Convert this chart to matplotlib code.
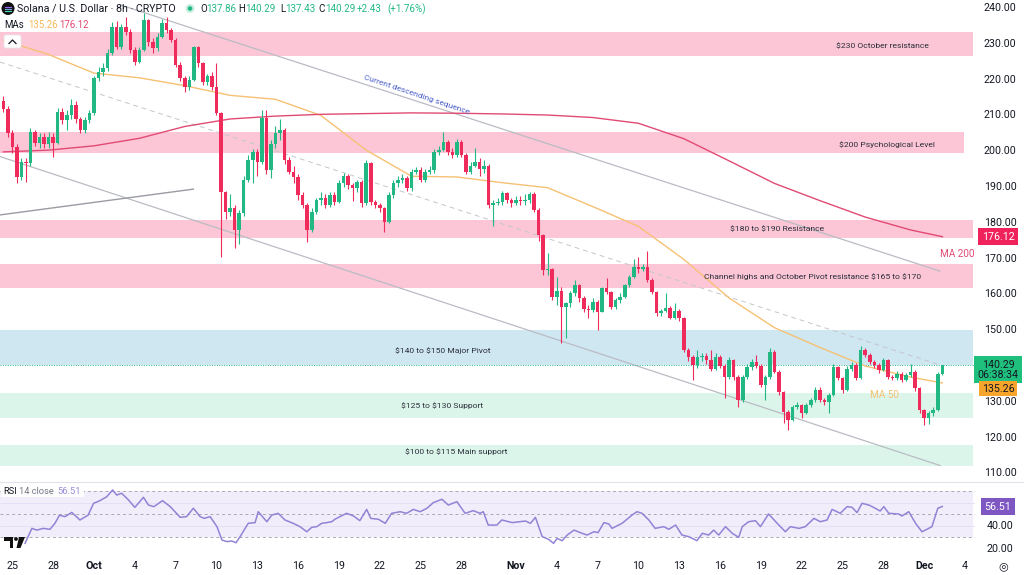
import matplotlib
matplotlib.use('Agg')
import matplotlib.pyplot as plt
from matplotlib.patches import Rectangle, Circle, Polygon, FancyBboxPatch

plt.rcParams['font.family'] = ['Roboto', 'DejaVu Sans']

# ---------------- data (8h candles, index 0 = Sep 24 08:00) ----------------
opens = [214.0, 211.7, 205.0, 201.3, 192.9, 197.1, 196.8, 205.5, 202.2, 204.0,
         202.0, 204.0, 202.2, 211.0, 208.7, 210.0, 213.0, 209.0, 206.0, 208.7,
         210.6, 220.4, 222.2, 223.2, 227.3, 234.8, 229.2, 234.8, 233.4, 228.3,
         225.0, 228.3, 236.6, 230.6, 228.7, 232.0, 235.7, 233.9, 231.1, 224.1,
         220.4, 218.0, 220.0, 229.0, 224.5, 219.4, 221.0, 218.0, 210.6, 188.7,
         183.0, 184.0, 178.0, 182.6, 192.0, 197.5, 199.8, 197.0, 209.2, 194.7,
         202.0, 205.0, 206.0, 197.5, 194.3, 192.9, 187.8, 185.0, 178.0, 183.0,
         186.4, 187.0, 185.0, 187.8, 185.9, 191.0, 193.0, 190.5, 189.6, 191.5,
         185.4, 196.6, 185.9, 185.0, 184.0, 180.3, 187.8, 191.0, 192.0, 192.4,
         189.6, 194.3, 194.8, 192.0, 194.3, 194.8, 199.9, 200.3, 202.6, 199.9,
         199.0, 202.6, 199.0, 194.3, 196.0, 197.0, 195.0, 196.0, 185.0, 185.5,
         185.8, 188.2, 186.4, 185.4, 186.4, 186.0, 186.5, 188.0, 183.6, 176.6,
         166.8, 167.2, 159.4, 161.0, 156.6, 157.5, 160.3, 162.6, 158.9, 156.0,
         155.6, 158.0, 155.2, 161.7, 160.8, 156.6, 158.4, 159.4, 162.6, 165.0,
         167.7, 167.0, 167.7, 164.0, 160.7, 154.7, 155.5, 156.3, 153.5, 155.5,
         153.3, 144.5, 142.6, 140.3, 142.6, 142.9, 141.6, 139.3, 142.6, 140.0,
         137.0, 141.7, 137.0, 130.5, 137.0, 139.8, 141.2, 140.0, 134.7, 137.0,
         144.0, 138.4, 132.8, 127.2, 124.9, 128.6, 129.0, 126.8, 129.1, 130.5,
         133.3, 130.5, 130.0, 131.9, 139.8, 136.6, 133.3, 139.3, 140.3, 136.6,
         144.5, 143.0, 141.2, 140.3, 138.9, 141.7, 137.0, 136.7, 137.9, 136.1,
         137.5, 138.4, 133.8, 127.7, 125.4, 126.8, 127.7, 137.86]
closes = [211.7, 205.0, 201.3, 192.9, 197.1, 196.8, 205.5, 202.2, 204.0, 202.0,
          204.0, 202.2, 211.0, 208.7, 210.0, 213.0, 209.0, 206.0, 208.7, 210.6,
          220.4, 222.2, 223.2, 227.3, 234.8, 229.2, 234.8, 233.4, 228.3, 225.0,
          228.3, 236.6, 230.6, 228.7, 232.0, 235.7, 233.9, 231.1, 224.1, 220.4,
          218.0, 220.0, 229.0, 224.5, 219.4, 221.0, 218.0, 210.6, 188.7, 183.0,
          184.0, 178.0, 182.6, 192.0, 197.5, 199.8, 197.0, 209.2, 194.7, 202.0,
          205.0, 206.0, 197.5, 194.3, 192.9, 187.8, 185.0, 178.0, 183.0, 186.4,
          187.0, 185.0, 187.8, 185.9, 191.0, 193.0, 190.5, 189.6, 191.5, 185.4,
          196.6, 185.9, 185.0, 184.0, 180.3, 187.8, 191.0, 192.0, 192.4, 189.6,
          194.3, 194.8, 192.0, 194.3, 194.8, 199.9, 200.3, 202.6, 199.9, 199.0,
          202.6, 199.0, 194.3, 196.0, 197.0, 195.0, 196.0, 185.0, 185.5, 185.8,
          188.2, 186.4, 185.4, 186.4, 186.0, 186.5, 188.0, 183.6, 176.6, 166.8,
          167.2, 159.4, 161.0, 156.6, 157.5, 160.3, 162.6, 158.9, 156.0, 155.6,
          158.0, 155.2, 161.7, 160.8, 156.6, 158.4, 159.4, 162.6, 165.0, 167.7,
          167.0, 167.7, 164.0, 160.7, 154.7, 155.5, 156.3, 153.5, 155.5, 153.3,
          144.5, 142.6, 140.3, 142.6, 142.9, 141.6, 139.3, 142.6, 140.0, 137.0,
          141.7, 137.0, 130.5, 137.0, 139.8, 141.2, 140.0, 134.7, 137.0, 144.0,
          138.4, 132.8, 127.2, 124.9, 128.6, 129.0, 126.8, 129.1, 130.5, 133.3,
          130.5, 130.0, 131.9, 139.8, 136.6, 133.3, 139.3, 140.3, 136.6, 144.5,
          143.0, 141.2, 140.3, 138.9, 141.7, 137.0, 136.7, 137.9, 136.1, 137.5,
          138.4, 133.8, 127.7, 125.4, 126.8, 127.7, 137.86, 140.29]
highs = [215.5, 212.5, 206.0, 202.0, 198.0, 198.0, 206.5, 206.0, 205.0, 205.0,
         205.5, 205.0, 212.0, 212.0, 211.5, 214.5, 214.0, 209.5, 209.5, 211.5,
         221.0, 223.5, 224.5, 228.5, 236.0, 236.5, 235.5, 237.5, 234.0, 229.0,
         229.0, 238.5, 237.0, 231.5, 233.0, 237.0, 237.5, 234.5, 231.5, 225.0,
         221.0, 221.0, 229.5, 229.5, 225.0, 221.5, 222.0, 224.5, 211.0, 189.0,
         188.0, 185.0, 183.5, 193.0, 199.0, 200.5, 200.5, 211.5, 211.5, 203.0,
         207.0, 209.0, 206.5, 198.5, 196.0, 193.5, 188.5, 185.5, 184.0, 187.0,
         188.5, 188.0, 188.5, 188.5, 192.0, 194.0, 193.5, 191.0, 192.0, 192.0,
         197.5, 197.0, 186.5, 185.5, 184.5, 188.5, 192.0, 193.0, 193.5, 193.0,
         195.0, 195.5, 195.5, 195.0, 196.0, 200.5, 201.5, 205.5, 203.0, 201.0,
         203.5, 203.0, 199.5, 197.0, 201.0, 198.0, 197.5, 196.5, 186.5, 187.0,
         189.0, 188.5, 187.0, 187.5, 187.5, 188.0, 188.5, 188.5, 184.0, 177.0,
         171.5, 167.5, 165.0, 162.0, 158.0, 161.0, 164.0, 163.0, 159.5, 157.0,
         159.0, 158.5, 162.0, 164.5, 161.0, 159.0, 160.5, 163.0, 165.5, 170.0,
         170.5, 168.5, 172.0, 164.5, 161.0, 156.0, 160.5, 156.8, 157.5, 156.0,
         153.8, 145.0, 143.0, 144.5, 143.5, 143.5, 144.5, 143.5, 143.0, 140.5,
         142.5, 142.0, 137.5, 137.5, 140.5, 142.0, 143.0, 140.5, 137.5, 145.0,
         144.5, 138.8, 133.0, 127.8, 129.0, 130.0, 129.5, 129.8, 131.0, 134.0,
         134.0, 131.0, 132.5, 140.5, 140.0, 137.0, 140.0, 141.0, 140.8, 145.5,
         145.0, 143.5, 141.8, 140.8, 142.2, 142.0, 137.5, 138.5, 138.3, 138.0,
         140.5, 138.8, 134.0, 128.0, 127.5, 128.5, 138.2, 140.29]
lows = [211.0, 204.0, 199.5, 191.0, 192.0, 191.5, 196.0, 201.5, 201.0, 201.0,
        201.0, 198.5, 202.0, 207.5, 206.0, 209.0, 208.0, 205.0, 205.0, 208.0,
        210.0, 219.5, 221.0, 222.5, 227.0, 228.5, 228.5, 232.5, 227.5, 224.0,
        224.5, 228.0, 229.5, 227.5, 228.0, 231.5, 233.0, 230.5, 223.5, 219.5,
        216.5, 217.0, 219.5, 223.5, 218.5, 218.5, 217.0, 210.0, 170.5, 181.0,
        182.0, 173.0, 174.0, 182.0, 191.5, 191.0, 193.0, 196.5, 193.5, 192.5,
        201.0, 203.0, 196.5, 193.5, 191.0, 186.5, 184.0, 174.7, 177.5, 182.5,
        185.0, 184.0, 184.5, 185.0, 185.5, 190.0, 189.5, 186.0, 188.5, 184.5,
        185.0, 185.0, 184.0, 183.0, 177.5, 180.0, 187.0, 190.0, 191.0, 189.0,
        189.0, 193.5, 191.5, 191.5, 193.5, 194.0, 199.0, 200.0, 199.0, 198.0,
        198.5, 198.5, 193.5, 193.5, 195.5, 193.0, 194.0, 184.0, 179.0, 185.0,
        185.0, 185.5, 184.5, 185.0, 185.0, 185.0, 185.5, 183.0, 175.0, 165.5,
        165.5, 158.5, 157.0, 146.5, 147.7, 156.5, 159.5, 158.0, 155.0, 153.5,
        155.0, 150.0, 155.0, 160.0, 156.0, 156.0, 157.5, 159.0, 162.0, 164.5,
        166.0, 166.5, 163.5, 160.0, 154.0, 154.0, 155.0, 153.0, 153.0, 152.5,
        144.0, 141.5, 136.0, 139.5, 141.5, 140.5, 138.5, 139.0, 139.5, 131.0,
        136.5, 136.0, 128.6, 130.0, 136.5, 139.0, 139.5, 134.0, 130.5, 136.5,
        138.0, 132.0, 124.0, 122.0, 124.5, 128.0, 125.5, 126.5, 128.5, 130.0,
        130.0, 129.0, 127.0, 131.5, 136.0, 132.5, 133.0, 138.5, 136.0, 136.3,
        142.5, 140.5, 139.5, 138.0, 138.5, 136.5, 136.0, 136.2, 135.6, 135.8,
        137.0, 133.0, 127.0, 123.5, 123.8, 126.0, 127.3, 137.43]

ma_idx = [0, 10, 20, 30, 40, 50, 60, 70, 80, 90, 100, 110, 120, 130, 140,
          150, 160, 170, 180, 190, 200, 207]
ma50 = [231.0, 227.0, 221.8, 220.5, 218.3, 215.6, 214.5, 210.0, 200.3, 193.0,
        192.8, 191.2, 189.8, 184.5, 179.0, 169.8, 159.0, 150.7, 145.2, 140.0,
        136.9, 135.26]
ma200 = [199.8, 200.3, 201.5, 203.6, 206.9, 209.0, 209.8, 210.3, 210.5, 210.7,
         210.6, 210.4, 210.1, 209.4, 207.8, 203.5, 197.3, 191.0, 186.2, 181.6,
         178.0, 176.12]

rsi_idx = [4.8, 6.3, 7.4, 8.8, 10.3, 11.4, 12.4, 13.6, 15.1, 16.9, 18.7, 19.9,
           21.3, 22.8, 24.1, 25.0, 26.1, 27.6, 29.0, 30.9, 32.0, 33.2, 35.1,
           36.8, 39.0, 40.4, 41.9, 43.4, 44.3, 45.6, 47.1, 48.2, 49.3, 50.4,
           51.3, 52.2, 54.0, 55.5, 56.2, 58.1, 59.2, 60.6, 62.1, 63.9, 65.4,
           66.9, 68.0, 69.1, 70.2, 71.3, 72.4, 73.1, 74.2, 75.7, 77.2, 78.6,
           80.1, 81.0, 82.7, 84.2, 85.6, 87.5, 88.9, 90.4, 91.9, 93.4, 94.8,
           96.7, 98.1, 100.0, 101.8, 103.6, 105.1, 105.8, 106.9, 108.8, 109.9,
           112.2, 115.1, 116.2, 117.3, 118.8, 120.2, 121.3, 122.1, 123.2, 124.3,
           125.8, 127.6, 128.7, 130.2, 131.1, 132.4, 133.5, 134.2, 136.4, 138.6,
           139.7, 140.8, 142.3, 143.7, 145.6, 146.7, 148.2, 149.6, 151.1, 152.9,
           154.1, 155.5, 156.6, 157.7, 159.2, 160.7, 162.1, 162.9, 164.3, 165.8,
           166.9, 168.7, 170.6, 172.4, 173.5, 175.4, 176.8, 178.7, 180.1, 181.6,
           182.7, 184.5, 186.0, 187.1, 188.2, 189.3, 190.8, 192.2, 193.3, 194.1,
           195.2, 197.4, 198.1, 199.6, 201.1, 202.5, 203.6, 204.7, 206.0, 207.0]
rsi_val = [24.5, 37.5, 36.0, 37.5, 36.7, 42.0, 49.0, 47.7, 51.4, 44.8, 49.0, 59.3,
           61.6, 65.0, 70.9, 66.5, 68.0, 62.2, 55.8, 64.5, 57.8, 56.4, 61.6,
           56.4, 47.1, 47.7, 55.0, 47.7, 46.2, 47.7, 39.0, 27.4, 26.0, 26.5,
           25.0, 30.3, 41.9, 42.5, 52.0, 43.3, 49.1, 50.6, 44.8, 41.9, 39.0,
           34.6, 38.4, 39.0, 41.9, 42.5, 43.3, 45.4, 47.7, 50.6, 48.3, 44.2,
           54.0, 46.2, 45.4, 41.9, 50.6, 52.0, 50.6, 54.0, 52.0, 55.0, 59.9,
           62.8, 57.8, 60.7, 50.6, 52.9, 50.6, 52.0, 40.4, 40.4, 44.8,
           42.5, 43.9, 41.9, 47.1, 30.3, 28.0, 24.5, 28.8, 26.8, 31.7,
           36.0, 33.2, 31.7, 34.6, 33.8, 42.5, 41.3, 37.5, 41.9, 49.1,
           52.0, 50.6, 44.8, 37.5, 39.0, 36.7, 40.4, 31.7, 30.3, 26.8,
           33.2, 31.7, 36.0, 31.7, 39.0, 33.2, 29.7, 39.0, 43.3, 44.2,
           39.0, 50.0, 41.9, 34.6, 39.0, 37.5, 39.0, 46.2, 43.3, 44.8,
           54.0, 50.6, 56.4, 55.8, 51.2, 59.3, 57.8, 55.0, 52.6, 56.4,
           50.6, 50.0, 48.3, 52.0, 41.9, 34.6, 36.7, 39.0, 55.0, 56.51]

date_tick_idx = [2, 11, 20, 29, 38, 47, 56, 65, 74, 83, 92, 101, 113, 122, 131,
                 140, 149, 158, 167, 176, 185, 194, 203, 212]
date_tick_lbl = ['25', '28', 'Oct', '4', '7', '10', '13', '16', '19', '22', '25',
                 '28', 'Nov', '4', '7', '10', '13', '16', '19', '22', '25', '28',
                 'Dec', '4']
price_ticks = [110, 120, 130, 150, 160, 170, 180, 190, 200, 210, 220, 230, 240]

# zones: low / high price, colour, right end (candle index)
zone_lo = [226.7, 199.5, 175.8, 161.8, 140.2, 125.5, 112.0]
zone_hi = [233.4, 205.3, 180.9, 168.5, 150.0, 132.5, 118.0]
zone_col = ['#fcc6d6', '#fcc6d6', '#fcc6d6', '#fcc6d6', '#cfe7f1', '#dcf5ea', '#dcf5ea']
zone_end = [213.8, 211.8, 213.8, 213.8, 213.8, 213.8, 213.8]
zone_txt = ['$230 October resistance', '$200 Psychological Level',
            '$180 to $190 Resistance',
            'Channel highs and October Pivot resistance $165 to $170',
            '$140 to $150 Major Pivot', '$125 to $130 Support',
            '$100 to $115 Main support']
zone_txt_x = [193.7, 194.8, 170.6, 178.3, 96.9, 96.7, 99.8]
zone_txt_y = [229.3, 201.7, 178.3, 164.9, 144.2, 128.8, 116.0]

# trend lines (candle index, price)
upper_x, upper_y = [25.7, 206.5], [240.9, 166.5]
lower_x, lower_y = [-0.72, 206.5], [198.5, 112.2]
dash_x, dash_y = [-0.72, 206.5], [224.9, 140.3]
short_x, short_y = [-0.72, 41.9], [182.2, 189.4]

last_close = 140.29
ma50_last = 135.26
ma200_last = 176.12
rsi_last = 56.51

# ---------------- figure ----------------
W, H = 1024, 575
fig = plt.figure(figsize=(W / 100, H / 100), dpi=100)
fig.patch.set_facecolor('white')

ax = fig.add_axes([0, 95 / H, 975 / W, 480 / H])
rx = fig.add_axes([0, 15 / H, 975 / W, 78 / H])
for a in (ax, rx):
    a.set_facecolor('white')
    for s in a.spines.values():
        s.set_visible(False)
    a.set_xticks([])
    a.set_yticks([])
    a.set_xlim(-0.723, 214.2)
ax.set_ylim(108.16, 242.23)
rx.set_ylim(10.0, 77.83)

UP = '#22b883'
DN = '#ee2b5b'
TXT = '#131722'

# zones
for lo, hi, col, xe in zip(zone_lo, zone_hi, zone_col, zone_end):
    ax.add_patch(Rectangle((-0.723, lo), xe + 0.723, hi - lo, facecolor=col,
                           edgecolor='none', zorder=1))
for t, tx, ty in zip(zone_txt, zone_txt_x, zone_txt_y):
    ax.text(tx, ty, t, fontsize=6.1, color='#2a2e39', ha='center', va='center',
            zorder=6, parse_math=False)

# trend lines
ax.plot(upper_x, upper_y, color='#b9bcc4', lw=0.9, zorder=2)
ax.plot(lower_x, lower_y, color='#b9bcc4', lw=0.9, zorder=2)
ax.plot(dash_x, dash_y, color='#c3c6cc', lw=0.7, ls=(0, (5, 4)), zorder=2)
ax.plot(short_x, short_y, color='#9a9ca3', lw=1.0, zorder=2)
ax.text(91.2, 215.7, 'Current descending sequence', fontsize=6.0, color='#4a5fc8',
        rotation=-18.5, rotation_mode='anchor', ha='center', va='center', zorder=6)

# moving averages
ax.plot(ma_idx, ma50, color='#f6c174', lw=1.0, zorder=2.5)
ax.plot(ma_idx, ma200, color='#e14a74', lw=1.0, zorder=2.5)

# current price dotted line
ax.axhline(last_close, color='#22b883', lw=0.7, ls=(0, (1, 1.5)), zorder=2)

# candles
idx = list(range(len(closes)))
cols = [UP if c >= o else DN for o, c in zip(opens, closes)]
bottoms = [min(o, c) for o, c in zip(opens, closes)]
heights = [max(abs(c - o), 0.3) for o, c in zip(opens, closes)]
ax.vlines(idx, lows, highs, colors=cols, lw=0.8, zorder=3)
ax.bar(idx, heights, bottom=bottoms, width=0.78, color=cols, linewidth=0, zorder=3.5)

ax.text(1.0, 171.2, 'MA 200', transform=ax.get_yaxis_transform(), fontsize=7.2,
        color='#e14a74', ha='right', va='center', zorder=6)
ax.text(194.2, 131.9, 'MA 50', fontsize=7.2, color='#f6c174', ha='center', va='center', zorder=6)

# price axis labels
yt = ax.get_yaxis_transform()
for p in price_ticks:
    ax.text(1.0256, p, f'{p:.2f}', transform=yt, fontsize=7.7, color=TXT,
            ha='center', va='center', clip_on=False)
ax.text(1.0236, ma200_last, f'{ma200_last:.2f}', transform=yt, fontsize=7.7, color='white',
        ha='center', va='center', clip_on=False,
        bbox=dict(boxstyle='square,pad=0.3', fc='#f0225c', ec='none'))
ax.annotate(f'{last_close:.2f}\n06:38:34', xy=(1.0236, last_close), xycoords=yt,
            xytext=(0, -3.3), textcoords='offset points', fontsize=7.7, color=TXT,
            ha='center', va='center', linespacing=1.0, annotation_clip=False,
            bbox=dict(boxstyle='square,pad=0.3', fc='#1fc07d', ec='none'))
ax.annotate(f'{ma50_last:.2f}', xy=(1.0236, ma50_last), xycoords=yt,
            xytext=(0, -4.2), textcoords='offset points', fontsize=7.7, color=TXT,
            ha='center', va='center', annotation_clip=False,
            bbox=dict(boxstyle='square,pad=0.22', fc='#f7a42c', ec='none'))

# ---------------- RSI pane ----------------
rx.add_patch(Rectangle((-0.723, 30), 214.5, 40, facecolor='#f1edfa', edgecolor='none', zorder=1))
for lv in (70, 50, 30):
    rx.axhline(lv, color='#a9a9b3', lw=0.7, ls=(0, (3, 3)), zorder=2)
for lv in (60, 40):
    rx.axhline(lv, color='#e4def3', lw=0.6, zorder=1.5)
rx.plot(rsi_idx, rsi_val, color='#9383d6', lw=1.1, zorder=3)
ryt = rx.get_yaxis_transform()
for r in (40, 20):
    rx.text(1.0256, r, f'{r:.2f}', transform=ryt, fontsize=7.7, color=TXT,
            ha='center', va='center', clip_on=False)
rx.text(1.0236, rsi_last, f'{rsi_last:.2f}', transform=ryt, fontsize=7.7, color='white',
        ha='center', va='center', clip_on=False,
        bbox=dict(boxstyle='square,pad=0.3', fc='#7e57c2', ec='none'))

# ---------------- overlay (header, axis labels, decorations) ----------------
ov = fig.add_axes([0, 0, 1, 1], zorder=10)
ov.set_xlim(0, W)
ov.set_ylim(H, 0)
ov.axis('off')
ov.patch.set_alpha(0)

ov.plot([0, W], [481.5, 481.5], color='#e0e3eb', lw=0.8)

# logo and header
ov.add_patch(Circle((8, 8.5), 6.5, facecolor='#111111', edgecolor='none'))
ov.plot([5, 11], [6.5, 6.5], color='#9b6cf0', lw=0.8)
ov.plot([5, 11], [8.7, 8.7], color='#7aa6e8', lw=0.8)
ov.plot([5, 11], [10.9, 10.9], color='#3fe0b0', lw=0.8)
ov.text(17, 9, 'Solana / U.S. Dollar · 8h · CRYPTO', fontsize=7.7, color=TXT,
        ha='left', va='center')
ov.add_patch(Circle((190, 8.5), 4.5, facecolor='#c9efe0', edgecolor='none'))
ov.add_patch(Circle((190, 8.5), 2.3, facecolor='#22b883', edgecolor='none'))
hdr = [('O', 200, TXT), ('137.86', 206.5, UP), ('H', 238.5, TXT), ('140.29', 245.5, UP),
       ('L', 280, TXT), ('137.43', 285.5, UP), ('C', 318, TXT), ('140.29', 325, UP),
       ('+2.43', 357, UP), ('(+1.76%)', 387, UP)]
for t, x, c in hdr:
    ov.text(x, 9, t, fontsize=7.0, color=c, ha='left', va='center')
ov.text(4, 25, 'MAs', fontsize=6.9, color=TXT, ha='left', va='center')
ov.text(28, 25, '135.26', fontsize=6.9, color='#f6b85a', ha='left', va='center')
ov.text(59, 25, '176.12', fontsize=6.9, color='#e14a74', ha='left', va='center')
ov.add_patch(FancyBboxPatch((4, 35), 17, 13, boxstyle='round,pad=0,rounding_size=2',
                            facecolor='white', edgecolor='#e6e6ea', lw=0.6))
ov.plot([9, 12.5, 16], [43.5, 40, 43.5], color=TXT, lw=0.9)

# RSI legend
ov.add_patch(Rectangle((1, 485), 83, 12, facecolor='white', edgecolor='none', alpha=0.9))
ov.text(3, 491, 'RSI', fontsize=6.7, color=TXT, ha='left', va='center')
ov.text(19, 491, '14 close', fontsize=6.7, color='#787b86', ha='left', va='center')
ov.text(57, 491, '56.51', fontsize=6.7, color='#9b8bd9', ha='left', va='center')

# TradingView logo
ov.add_patch(Polygon([(4, 537), (13, 537), (13, 548), (9.5, 548), (9.5, 540.5), (4, 540.5)],
                     closed=True, facecolor='#111111', edgecolor='none'))
ov.add_patch(Circle((16, 539), 1.9, facecolor='#111111', edgecolor='none'))
ov.add_patch(Polygon([(19, 537), (25, 537), (20.5, 548), (16.5, 548)], closed=True,
                     facecolor='#111111', edgecolor='none'))

# date labels
for i, lbl in zip(date_tick_idx, date_tick_lbl):
    xp = 3.28 + i * 4.536
    bold = lbl in ('Oct', 'Nov', 'Dec')
    ov.text(xp, 566, lbl, fontsize=7.7, color=TXT, ha='center', va='center',
            fontweight='bold' if bold else 'normal')
ov.text(1003, 566, '◎', fontsize=8, color=TXT, ha='center', va='center',
        family=['DejaVu Sans'])

fig.savefig('out.png', dpi=100, facecolor='white')
